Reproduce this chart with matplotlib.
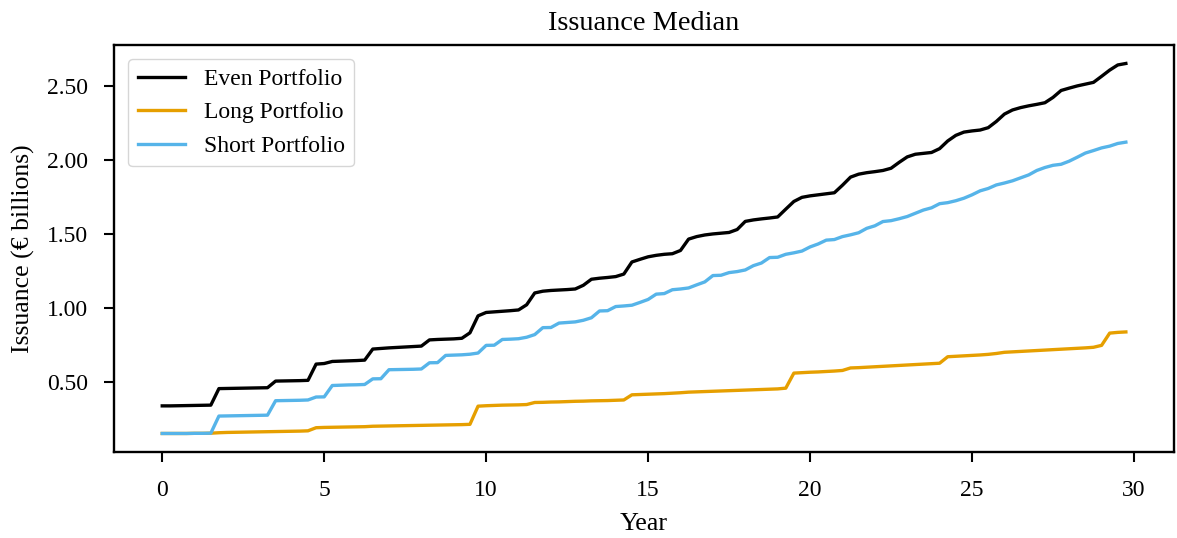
import numpy as np
import matplotlib
matplotlib.use("Agg")
from matplotlib import pyplot as plt

# quarterly time grid, 30 years
years = np.arange(120) * 0.25

even_portfolio = [
    0.335, 0.335, 0.336, 0.337, 0.338, 0.339, 0.340, 0.452,
    0.453, 0.454, 0.455, 0.456, 0.457, 0.458, 0.503, 0.504,
    0.505, 0.506, 0.508, 0.618, 0.622, 0.636, 0.638, 0.640,
    0.642, 0.645, 0.720, 0.724, 0.728, 0.731, 0.734, 0.737,
    0.740, 0.782, 0.785, 0.787, 0.789, 0.793, 0.830, 0.945,
    0.968, 0.972, 0.976, 0.980, 0.985, 1.020, 1.100, 1.112,
    1.117, 1.120, 1.123, 1.127, 1.152, 1.193, 1.200, 1.205,
    1.211, 1.228, 1.310, 1.328, 1.345, 1.355, 1.362, 1.366,
    1.388, 1.465, 1.482, 1.493, 1.500, 1.505, 1.510, 1.530,
    1.585, 1.595, 1.602, 1.608, 1.615, 1.668, 1.720, 1.748,
    1.758, 1.765, 1.772, 1.779, 1.830, 1.885, 1.905, 1.915,
    1.922, 1.930, 1.945, 1.985, 2.022, 2.040, 2.046, 2.052,
    2.078, 2.130, 2.168, 2.190, 2.198, 2.204, 2.220, 2.262,
    2.312, 2.340, 2.356, 2.368, 2.378, 2.389, 2.425, 2.472,
    2.488, 2.503, 2.515, 2.527, 2.568, 2.610, 2.645, 2.655,
]

long_portfolio = [
    0.148, 0.148, 0.148, 0.148, 0.149, 0.149, 0.150, 0.153,
    0.155, 0.156, 0.157, 0.158, 0.159, 0.160, 0.161, 0.162,
    0.163, 0.164, 0.166, 0.187, 0.189, 0.190, 0.191, 0.192,
    0.193, 0.194, 0.197, 0.198, 0.199, 0.200, 0.201, 0.202,
    0.203, 0.204, 0.205, 0.206, 0.207, 0.208, 0.210, 0.333,
    0.336, 0.338, 0.340, 0.341, 0.342, 0.344, 0.358, 0.359,
    0.361, 0.362, 0.364, 0.366, 0.367, 0.369, 0.370, 0.371,
    0.373, 0.375, 0.410, 0.412, 0.414, 0.416, 0.418, 0.421,
    0.424, 0.428, 0.430, 0.432, 0.434, 0.436, 0.438, 0.440,
    0.442, 0.444, 0.446, 0.448, 0.450, 0.455, 0.557, 0.560,
    0.563, 0.565, 0.568, 0.571, 0.575, 0.592, 0.594, 0.597,
    0.600, 0.603, 0.606, 0.609, 0.612, 0.615, 0.618, 0.621,
    0.624, 0.668, 0.671, 0.674, 0.677, 0.680, 0.684, 0.690,
    0.698, 0.701, 0.704, 0.707, 0.710, 0.713, 0.716, 0.719,
    0.722, 0.725, 0.728, 0.732, 0.745, 0.828, 0.833, 0.836,
]

short_portfolio = [
    0.148, 0.148, 0.148, 0.148, 0.149, 0.149, 0.150, 0.266,
    0.267, 0.268, 0.269, 0.270, 0.271, 0.272, 0.370, 0.371,
    0.372, 0.373, 0.375, 0.395, 0.396, 0.473, 0.475, 0.477,
    0.478, 0.480, 0.518, 0.519, 0.580, 0.581, 0.582, 0.583,
    0.585, 0.627, 0.628, 0.677, 0.679, 0.681, 0.685, 0.693,
    0.745, 0.746, 0.785, 0.787, 0.790, 0.800, 0.818, 0.865,
    0.866, 0.896, 0.900, 0.904, 0.915, 0.932, 0.978, 0.980,
    1.008, 1.012, 1.017, 1.036, 1.056, 1.092, 1.096, 1.122,
    1.127, 1.134, 1.155, 1.175, 1.218, 1.220, 1.238, 1.245,
    1.256, 1.285, 1.303, 1.340, 1.342, 1.362, 1.372, 1.384,
    1.412, 1.432, 1.458, 1.462, 1.482, 1.494, 1.508, 1.538,
    1.555, 1.584, 1.590, 1.603, 1.618, 1.640, 1.662, 1.677,
    1.705, 1.712, 1.725, 1.742, 1.765, 1.792, 1.808, 1.832,
    1.845, 1.860, 1.880, 1.900, 1.930, 1.950, 1.965, 1.972,
    1.993, 2.020, 2.048, 2.065, 2.083, 2.095, 2.113, 2.122,
]

plt.rcParams['font.family'] = ['Liberation Serif', 'DejaVu Serif']

fig = plt.figure(figsize=(11.77, 5.38), dpi=100)
ax = fig.add_axes([0.0969, 0.1599, 0.9006, 0.7565])

ax.plot(years, even_portfolio, color='black', lw=2.4, label='Even Portfolio')
ax.plot(years, long_portfolio, color='#E69F00', lw=2.4, label='Long Portfolio')
ax.plot(years, short_portfolio, color='#56B4E9', lw=2.4, label='Short Portfolio')

ax.set_title('Issuance Median', fontsize=20.4, pad=11)
ax.set_xlabel('Year', fontsize=18.7, labelpad=8)
ax.set_ylabel('Issuance (€ billions)', fontsize=18.5, labelpad=8)
ax.set_yticks([0.5, 1.0, 1.5, 2.0, 2.5])
ax.yaxis.set_major_formatter(matplotlib.ticker.FormatStrFormatter('%.2f'))
ax.tick_params(labelsize=17, width=1.5, length=7.5)
ax.tick_params(axis='x', pad=13)
ax.tick_params(axis='y', pad=11.5)
for s in ax.spines.values():
    s.set_linewidth(1.7)
ax.legend(loc='upper left', fontsize=17, borderaxespad=0.6)

fig.savefig('out.png', dpi=100)
